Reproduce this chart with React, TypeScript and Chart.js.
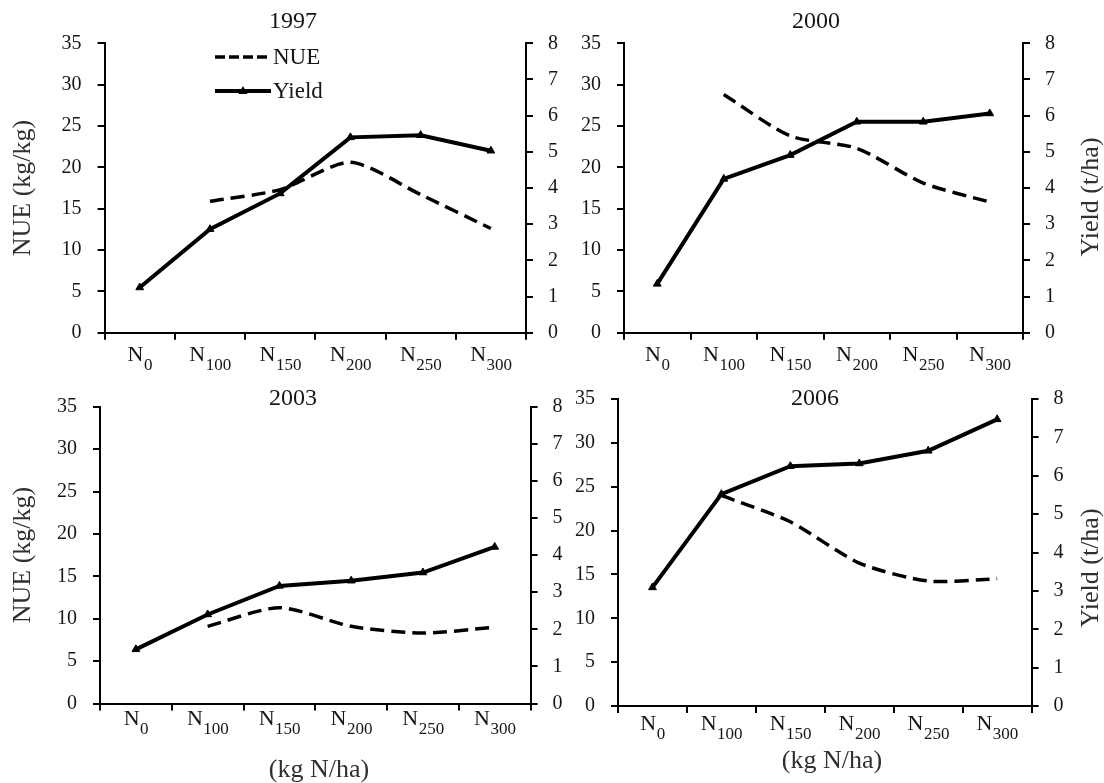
import React, { useEffect, useRef } from 'react';
import { Chart, registerables } from 'chart.js';

Chart.register(...registerables);

// ---------- data ----------
const DOSES = ['0', '100', '150', '200', '250', '300'];
const CATEGORIES = DOSES.map((d) => 'N' + d);
const YEARS = ['1997', '2000', '2003', '2006'];

const NUE_1997 = [null, 15.9, 17.3, 20.6, 16.7, 12.6];
const YIELD_1997 = [1.25, 2.86, 3.85, 5.4, 5.46, 5.03];

const NUE_2000 = [null, 28.8, 23.8, 22.3, 18.1, 15.8];
const YIELD_2000 = [1.35, 4.25, 4.91, 5.83, 5.83, 6.06];

const NUE_2003 = [null, 9.1, 11.3, 9.1, 8.3, 9.0];
const YIELD_2003 = [1.46, 2.4, 3.17, 3.31, 3.53, 4.22];

const NUE_2006 = [null, 24.0, 21.0, 16.3, 14.25, 14.5];
const YIELD_2006 = [3.09, 5.52, 6.25, 6.32, 6.65, 7.47];

const NUE_SERIES = [NUE_1997, NUE_2000, NUE_2003, NUE_2006];
const YIELD_SERIES = [YIELD_1997, YIELD_2000, YIELD_2003, YIELD_2006];

const NUE_LABEL = 'NUE';
const YIELD_LABEL = 'Yield';
const NUE_AXIS_TITLE = 'NUE (kg/kg)';
const YIELD_AXIS_TITLE = 'Yield (t/ha)';
const X_AXIS_TITLE = '(kg N/ha)';

// ---------- layout ----------
const PAGE_W = 1104;
const PAGE_H = 783;
const SERIF = '"Liberation Serif", "Times New Roman", serif';
const TEXT = '#161616';
const TITLE_GRAY = '#303030';
const YW = 50; // fixed width of y axes boxes
const XH = 40; // fixed height of x axis box

type PanelLayout = {
  left: number; right: number; top: number; bottom: number;
  titleX: number; titleY: number;
  xlabY: number;
  nueTitle?: [number, number];
  yieldTitle?: [number, number];
  xTitle?: [number, number];
  legend?: boolean;
};

const LAYOUTS: PanelLayout[] = [
  { left: 104.6, right: 526, top: 43.3, bottom: 332.7, titleX: 293, titleY: 28, xlabY: 361,
    nueTitle: [23, 188], legend: true },
  { left: 624, right: 1023, top: 43.3, bottom: 332.7, titleX: 816, titleY: 28, xlabY: 361,
    yieldTitle: [1091, 197] },
  { left: 100, right: 530.6, top: 406.7, bottom: 703.5, titleX: 293, titleY: 405, xlabY: 725,
    nueTitle: [23, 555], xTitle: [319, 770] },
  { left: 618, right: 1031.6, top: 399, bottom: 706, titleX: 815, titleY: 405, xlabY: 730,
    yieldTitle: [1091, 568], xTitle: [832, 761] },
];

function drawRotated(ctx: CanvasRenderingContext2D, text: string, x: number, y: number) {
  ctx.save();
  ctx.translate(x, y);
  ctx.rotate(-Math.PI / 2);
  ctx.textAlign = 'center';
  ctx.textBaseline = 'middle';
  ctx.fillText(text, 0, 0);
  ctx.restore();
}

function Panel({ index }: { index: number }) {
  const ref = useRef<HTMLCanvasElement>(null);

  useEffect(() => {
    const L = LAYOUTS[index];
    const title = YEARS[index];

    const decor = {
      id: 'decor' + index,
      afterDraw(chart: any) {
        const ctx: CanvasRenderingContext2D = chart.ctx;
        ctx.save();
        ctx.fillStyle = TEXT;
        // panel title
        ctx.font = `24px ${SERIF}`;
        ctx.textAlign = 'center';
        ctx.textBaseline = 'alphabetic';
        ctx.fillText(title, L.titleX, L.titleY);

        // x labels with subscripts
        const xs = chart.scales.x;
        DOSES.forEach((d, i) => {
          const cx = xs.getPixelForValue(i);
          ctx.font = `22px ${SERIF}`;
          const wN = ctx.measureText('N').width;
          ctx.font = `17px ${SERIF}`;
          const wS = ctx.measureText(d).width;
          const x0 = cx - (wN + wS) / 2;
          ctx.textAlign = 'left';
          ctx.textBaseline = 'alphabetic';
          ctx.font = `22px ${SERIF}`;
          ctx.fillText('N', x0, L.xlabY);
          ctx.font = `17px ${SERIF}`;
          ctx.fillText(d, x0 + wN + 0.5, L.xlabY + 9);
        });

        // axis titles
        ctx.fillStyle = TITLE_GRAY;
        ctx.font = `26px ${SERIF}`;
        if (L.nueTitle) drawRotated(ctx, NUE_AXIS_TITLE, L.nueTitle[0], L.nueTitle[1]);
        if (L.yieldTitle) drawRotated(ctx, YIELD_AXIS_TITLE, L.yieldTitle[0], L.yieldTitle[1]);
        if (L.xTitle) {
          ctx.textAlign = 'center';
          ctx.textBaseline = 'middle';
          ctx.fillText(X_AXIS_TITLE, L.xTitle[0], L.xTitle[1]);
        }

        // legend
        if (L.legend) {
          ctx.strokeStyle = '#000';
          ctx.lineWidth = 3.5;
          ctx.setLineDash([10, 4]);
          ctx.beginPath();
          ctx.moveTo(215, 57);
          ctx.lineTo(271, 57);
          ctx.stroke();
          ctx.setLineDash([]);
          ctx.lineWidth = 4;
          ctx.beginPath();
          ctx.moveTo(215, 91);
          ctx.lineTo(271, 91);
          ctx.stroke();
          ctx.fillStyle = '#000';
          ctx.beginPath();
          ctx.moveTo(243, 86);
          ctx.lineTo(247.5, 94);
          ctx.lineTo(238.5, 94);
          ctx.closePath();
          ctx.fill();
          ctx.fillStyle = TEXT;
          ctx.font = `23px ${SERIF}`;
          ctx.textAlign = 'left';
          ctx.textBaseline = 'middle';
          ctx.fillText(NUE_LABEL, 273, 58);
          ctx.fillText(YIELD_LABEL, 273, 92);
        }
        ctx.restore();
      },
    };

    const tickFont = { family: SERIF, size: 20 };

    const chart = new Chart(ref.current as HTMLCanvasElement, {
      type: 'line',
      data: {
        labels: CATEGORIES,
        datasets: [
          {
            label: NUE_LABEL,
            data: NUE_SERIES[index],
            yAxisID: 'y',
            borderColor: '#000',
            borderWidth: 3.5,
            borderDash: [14, 7],
            pointRadius: 0,
            tension: 0.25,
            spanGaps: true,
            fill: false,
          },
          {
            label: YIELD_LABEL,
            data: YIELD_SERIES[index],
            yAxisID: 'y1',
            borderColor: '#000',
            backgroundColor: '#000',
            borderWidth: 4,
            pointStyle: 'triangle',
            pointRadius: 4.5,
            pointBorderWidth: 1,
            tension: 0,
            fill: false,
          },
        ],
      } as any,
      options: {
        responsive: false,
        animation: false,
        devicePixelRatio: 1,
        layout: {
          padding: {
            left: L.left - YW,
            right: PAGE_W - L.right - YW,
            top: L.top,
            bottom: PAGE_H - L.bottom - XH,
          },
        },
        plugins: {
          legend: { display: false },
          tooltip: { enabled: false },
          title: { display: false },
        },
        scales: {
          x: {
            type: 'category',
            offset: true,
            grid: {
              offset: true,
              drawOnChartArea: false,
              drawTicks: true,
              tickLength: 7,
              color: '#000',
              lineWidth: 2,
            },
            border: { display: true, color: '#000', width: 2 },
            ticks: { display: false },
            afterFit: (s: any) => { s.height = XH; },
          },
          y: {
            position: 'left',
            min: 0,
            max: 35,
            ticks: { stepSize: 5, color: TEXT, font: tickFont, padding: 16 },
            grid: { drawOnChartArea: false, tickLength: 7, color: '#000', lineWidth: 2 },
            border: { display: true, color: '#000', width: 2 },
            afterFit: (s: any) => { s.width = YW; },
          },
          y1: {
            position: 'right',
            min: 0,
            max: 8,
            ticks: { stepSize: 1, color: TEXT, font: tickFont, padding: 15 },
            grid: { drawOnChartArea: false, tickLength: 7, color: '#000', lineWidth: 2 },
            border: { display: true, color: '#000', width: 2 },
            afterFit: (s: any) => { s.width = YW; },
          },
        },
      } as any,
      plugins: [decor],
    });

    return () => chart.destroy();
  }, [index]);

  return (
    <canvas
      ref={ref}
      width={PAGE_W}
      height={PAGE_H}
      style={{ position: 'absolute', left: 0, top: 0, width: PAGE_W, height: PAGE_H }}
    />
  );
}

export default function App() {
  return (
    <div
      style={{
        position: 'absolute',
        left: 0,
        top: 0,
        width: PAGE_W,
        height: PAGE_H,
        background: '#fff',
        overflow: 'hidden',
      }}
    >
      {YEARS.map((_, i) => (
        <Panel key={i} index={i} />
      ))}
    </div>
  );
}
